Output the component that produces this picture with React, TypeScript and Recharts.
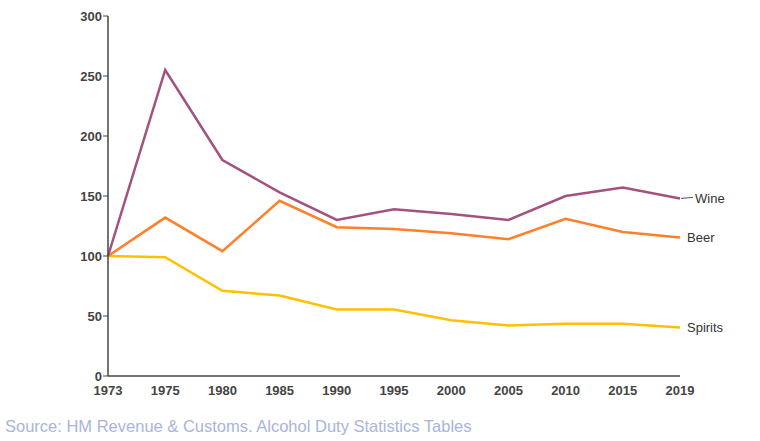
import React from 'react'
import { LineChart, Line, XAxis, YAxis } from 'recharts'

const years = ['1973', '1975', '1980', '1985', '1990', '1995', '2000', '2005', '2010', '2015', '2019']
const wine = [100, 255, 180, 153, 130, 139, 135, 130, 150, 157, 148]
const beer = [100, 132, 104, 146, 124, 122.5, 119, 114, 131, 120, 115.5]
const spirits = [100, 99, 71, 67, 55.5, 55.5, 46.5, 42, 43.5, 43.5, 40.5]
const yTicks = [0, 50, 100, 150, 200, 250, 300]

const data = years.map((year, i) => ({
  year,
  wine: wine[i],
  beer: beer[i],
  spirits: spirits[i],
}))

const FONT = '"Liberation Sans", Arial, sans-serif'
const last = years.length - 1

function endLabel(text: string, leader: boolean) {
  return (props: any) => {
    const { x, y, index } = props
    if (index !== last) return null
    return (
      <g>
        {leader && <line x1={x + 1} y1={y} x2={x + 13} y2={y - 1} stroke="#555" strokeWidth={1} />}
        <text
          x={x + (leader ? 15 : 7)}
          y={y}
          dy="0.35em"
          fontFamily={FONT}
          fontSize={13}
          fill="#333"
        >
          {text}
        </text>
      </g>
    )
  }
}

export default function App() {
  return (
    <div style={{ position: 'absolute', left: 0, top: 0, width: 760, height: 441, background: '#fff' }}>
      <LineChart
        width={760}
        height={441}
        data={data}
        margin={{ top: 16, right: 80, left: 68, bottom: 35 }}
      >
        <XAxis
          dataKey="year"
          tick={{ fontSize: 13, fontFamily: FONT, fill: '#444', fontWeight: 'bold' }}
          tickLine={false}
          axisLine={{ stroke: '#444', strokeWidth: 1.5 }}
          interval={0}
          height={30}
          tickMargin={4}
        />
        <YAxis
          domain={[0, 300]}
          ticks={yTicks}
          width={40}
          tick={{ fontSize: 13, fontFamily: FONT, fill: '#444', fontWeight: 'bold' }}
          tickLine={{ stroke: '#444' }}
          tickSize={5}
          tickMargin={1}
          axisLine={{ stroke: '#444', strokeWidth: 1.5 }}
        />
        <Line
          dataKey="spirits"
          stroke="#ffc000"
          strokeWidth={2.5}
          dot={false}
          isAnimationActive={false}
          label={endLabel('Spirits', false)}
        />
        <Line
          dataKey="beer"
          stroke="#ff7f2a"
          strokeWidth={2.5}
          dot={false}
          isAnimationActive={false}
          label={endLabel('Beer', false)}
        />
        <Line
          dataKey="wine"
          stroke="#a3527f"
          strokeWidth={2.5}
          dot={false}
          isAnimationActive={false}
          label={endLabel('Wine', true)}
        />
      </LineChart>
      <div
        style={{
          position: 'absolute',
          left: 5,
          top: 417,
          fontFamily: FONT,
          fontSize: 16.5,
          color: '#a9b4de',
          whiteSpace: 'nowrap',
        }}
      >
        Source: HM Revenue &amp; Customs. Alcohol Duty Statistics Tables
      </div>
    </div>
  )
}
